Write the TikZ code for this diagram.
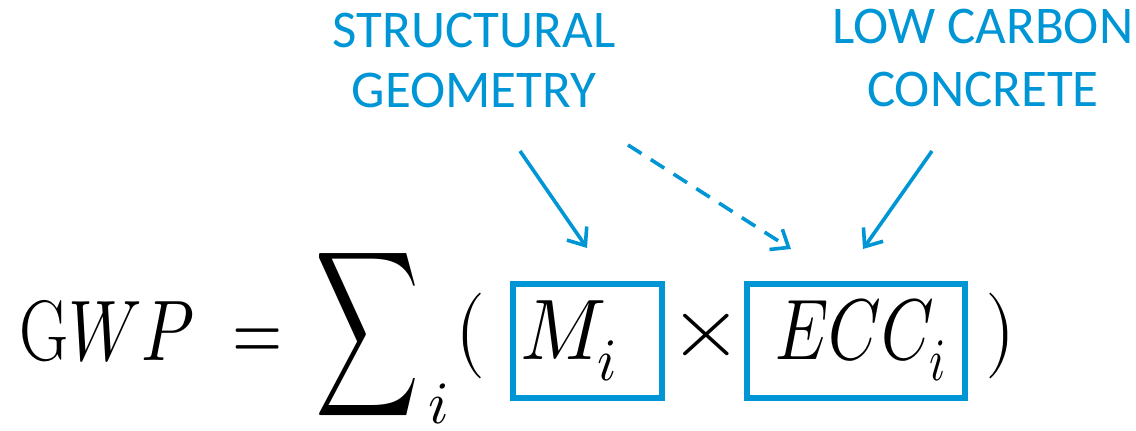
\documentclass[tikz,border=0pt]{standalone}
\usepackage{fontspec}
\usepackage{unicode-math}
\setmathfont{Latin Modern Math}
\usepackage{graphicx}
\newfontfamily\lblfont{Carlito}
\usetikzlibrary{arrows.meta}
\definecolor{accent}{RGB}{0,150,214}
\newcommand{\hsq}[2]{\scalebox{#1}[1]{#2}}
\tikzset{
  lbl/.style={font=\lblfont\fontsize{53}{60}\selectfont, text=accent, inner sep=0pt, anchor=base},
  eq/.style={font=\fontsize{86}{100}\selectfont, inner sep=0pt, anchor=base},
  hbox/.style={draw=accent, line width=5.5pt},
  pointer/.style={draw=accent, line width=3.6pt, -{Straight Barb[length=15pt,width=24pt]}},
}
\begin{document}
\begin{tikzpicture}[x=1pt,y=-1pt]
\useasboundingbox (0,0) rectangle (1136,431);
% labels
\node[lbl] (sg1) at (474,47) {STRUCTURAL};
\node[lbl] (sg2) at (474,107) {GEOMETRY};
\node[lbl] (lc1) at (983,43) {LOW CARBON};
\node[lbl] (lc2) at (983,106) {CONCRETE};
% equation
\node[eq] (gwp) at (107,360) {\hsq{0.79}{$\mathrm{G}WP$}};
\node[eq] (eqs) at (258,360) {\hsq{0.75}{$=$}};
\node[inner sep=0pt, anchor=north west] (sig) at (315,253) {\resizebox*{104pt}{162pt}{$\displaystyle\sum$}};
\node[eq, font=\fontsize{60}{70}\selectfont, text depth=0pt] (sub) at (439,423) {$i$};
\node[eq] (lp) at (471,357) {\hsq{0.9}{$($}};
\draw[hbox] (513,284) rectangle (662,398);
\node[eq] (mi) at (569,359) {\hsq{0.93}{$M_i$}};
\node[eq] (tim) at (706,356) {\hsq{1.1}{$\times$}};
\draw[hbox] (747,284) rectangle (965,398);
\node[eq] (ecc) at (861,359) {\hsq{0.78}{$ECC_i$}};
\node[eq] (rp) at (1001,357) {\hsq{0.9}{$)$}};
% arrows
\coordinate (a1s) at (520,151);
\coordinate (a1e) at (587,248);
\coordinate (a2s) at (628,145);
\coordinate (a2e) at (791,249);
\coordinate (a3s) at (932,151);
\coordinate (a3e) at (863,249);
\draw[pointer] (a1s) -- (a1e);
\draw[pointer, dash pattern=on 16pt off 11pt] (a2s) -- (a2e);
\draw[pointer] (a3s) -- (a3e);
\end{tikzpicture}
\end{document}
